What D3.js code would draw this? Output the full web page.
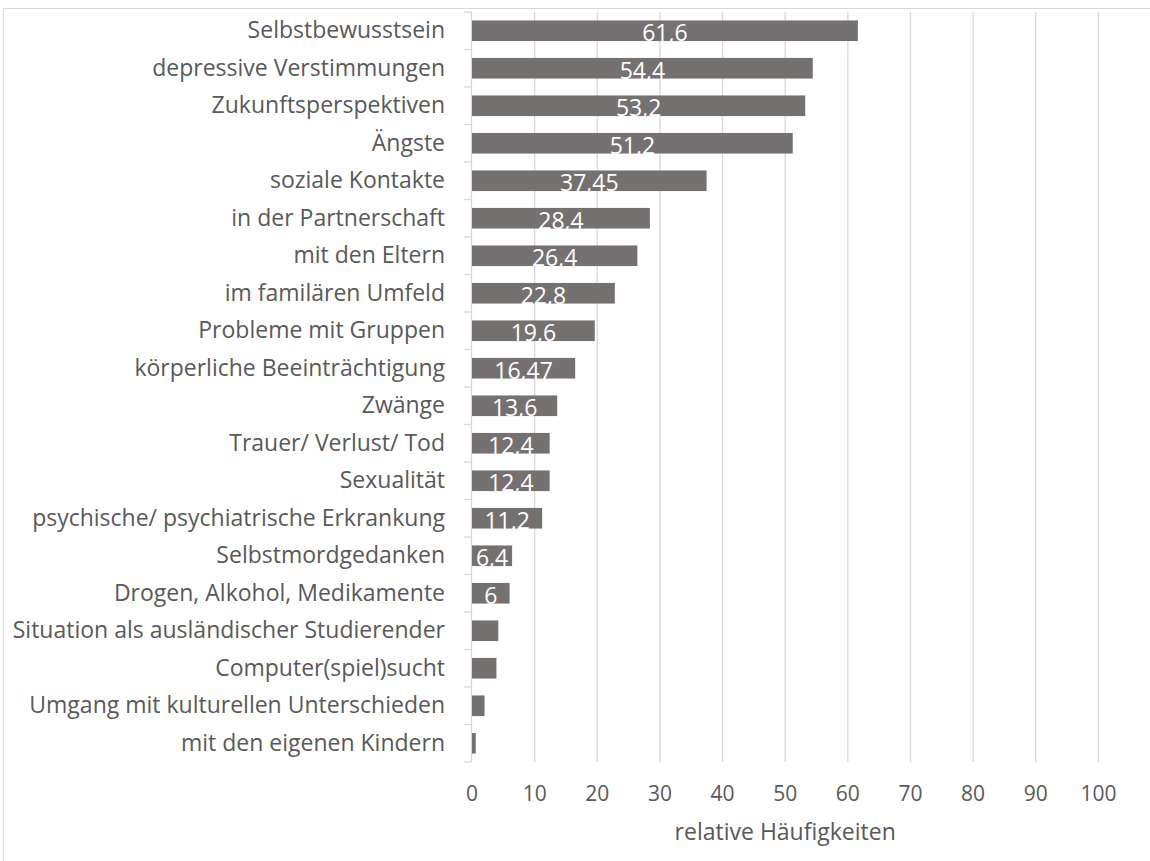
<!DOCTYPE html>
<html>
<head>
<meta charset="utf-8">
<script src="https://cdn.jsdelivr.net/npm/d3@7"></script>
<style>
  html, body { margin: 0; padding: 0; background: #fff; }
  svg { display: block; }
</style>
</head>
<body>
<svg id="chart" width="1150" height="861"></svg>
<script>
// Problembereiche und relative Häufigkeiten (in %)
const categories = [
  "Selbstbewusstsein",
  "depressive Verstimmungen",
  "Zukunftsperspektiven",
  "Ängste",
  "soziale Kontakte",
  "in der Partnerschaft",
  "mit den Eltern",
  "im familären Umfeld",
  "Probleme mit Gruppen",
  "körperliche Beeinträchtigung",
  "Zwänge",
  "Trauer/ Verlust/ Tod",
  "Sexualität",
  "psychische/ psychiatrische Erkrankung",
  "Selbstmordgedanken",
  "Drogen, Alkohol, Medikamente",
  "Situation als ausländischer Studierender",
  "Computer(spiel)sucht",
  "Umgang mit kulturellen Unterschieden",
  "mit den eigenen Kindern"
];
const values = [61.6, 54.4, 53.2, 51.2, 37.45, 28.4, 26.4, 22.8, 19.6, 16.47,
                13.6, 12.4, 12.4, 11.2, 6.4, 6, 4.2, 3.9, 2.0, 0.6];
// Beschriftungen, die in den Balken stehen (leer = keine Beschriftung)
const valueLabels = ["61,6", "54,4", "53,2", "51,2", "37,45", "28,4", "26,4", "22,8", "19,6", "16,47",
                     "13,6", "12,4", "12,4", "11,2", "6,4", "6", "", "", "", ""];
const xTicks = [0, 10, 20, 30, 40, 50, 60, 70, 80, 90, 100];
const xTitle = "relative Häufigkeiten";

const data = categories.map((c, i) => ({ cat: c, value: values[i], label: valueLabels[i] }));

const svg = d3.select("#chart");
const FONT = "'Open Sans', 'DejaVu Sans', sans-serif";
const gridColor = "#d9d9d9";
const textColor = "#595959";
const barColor = "#767171";

// Rahmen des Diagrammbereichs
svg.append("rect")
  .attr("x", 3.5).attr("y", 8.5)
  .attr("width", 1160).attr("height", 870)
  .attr("fill", "none").attr("stroke", gridColor).attr("stroke-width", 1);

const plot = { left: 472, right: 1098.4, top: 12, bottom: 762 };

const x = d3.scaleLinear().domain([0, 100]).range([plot.left, plot.right]);
const y = d3.scaleBand().domain(categories).range([plot.top, plot.bottom]).paddingInner(0.45).paddingOuter(0.225);

// Gitterlinien
svg.append("g")
  .selectAll("line")
  .data(xTicks.filter(t => t > 0))
  .join("line")
  .attr("x1", d => x(d)).attr("x2", d => x(d))
  .attr("y1", plot.top).attr("y2", plot.bottom)
  .attr("stroke", gridColor).attr("stroke-width", 1.3);

// Kategorienachse mit Teilstrichen zwischen den Kategorien
const step = y.step();
const catAxis = svg.append("g");
catAxis.append("line")
  .attr("x1", plot.left - 0.5).attr("x2", plot.left - 0.5)
  .attr("y1", plot.top).attr("y2", plot.bottom)
  .attr("stroke", gridColor).attr("stroke-width", 1.3);
catAxis.selectAll("line.tick")
  .data(d3.range(categories.length + 1))
  .join("line")
  .attr("class", "tick")
  .attr("x1", plot.left - 8).attr("x2", plot.left - 0.5)
  .attr("y1", i => plot.top + i * step).attr("y2", i => plot.top + i * step)
  .attr("stroke", gridColor).attr("stroke-width", 1.3);

// Kategorienbeschriftungen
svg.append("g")
  .selectAll("text")
  .data(data)
  .join("text")
  .attr("x", 445)
  .attr("y", d => y(d.cat) + y.bandwidth() / 2)
  .attr("dy", "0.33em")
  .attr("text-anchor", "end")
  .attr("font-family", FONT)
  .attr("font-size", 23)
  .attr("fill", textColor)
  .text(d => d.cat);

// Balken
svg.append("g")
  .selectAll("rect")
  .data(data)
  .join("rect")
  .attr("x", x(0))
  .attr("y", d => y(d.cat))
  .attr("width", d => x(d.value) - x(0))
  .attr("height", y.bandwidth())
  .attr("fill", barColor);

// Werte in den Balken
svg.append("g")
  .selectAll("text")
  .data(data.filter(d => d.label !== ""))
  .join("text")
  .attr("x", d => (x(0) + x(d.value)) / 2)
  .attr("y", d => y(d.cat) + y.bandwidth() / 2 + 10.5)
  .attr("text-anchor", "middle")
  .attr("font-family", FONT)
  .attr("font-size", 23)
  .attr("fill", "#ffffff")
  .text(d => d.label);

// Wertachse
svg.append("g")
  .selectAll("text")
  .data(xTicks)
  .join("text")
  .attr("x", d => x(d))
  .attr("y", 801)
  .attr("text-anchor", "middle")
  .attr("font-family", FONT)
  .attr("font-size", 21)
  .attr("fill", textColor)
  .text(d => d);

svg.append("text")
  .attr("x", (x(0) + x(100)) / 2)
  .attr("y", 840)
  .attr("text-anchor", "middle")
  .attr("font-family", FONT)
  .attr("font-size", 23)
  .attr("fill", textColor)
  .text(xTitle);
</script>
</body>
</html>
